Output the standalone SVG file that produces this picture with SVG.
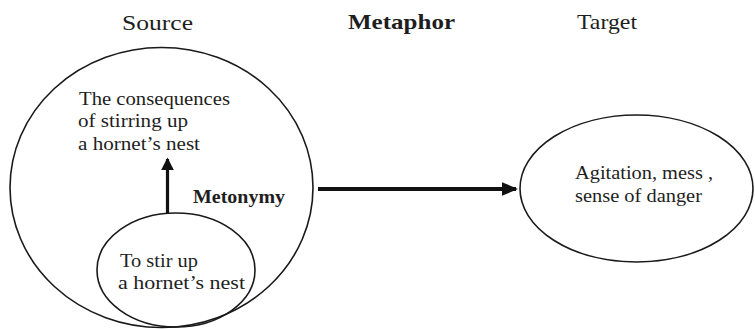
<svg xmlns="http://www.w3.org/2000/svg" width="755" height="329" viewBox="0 0 755 329">
<style>
.t{font-family:"Liberation Serif","Times New Roman","DejaVu Serif",serif;fill:#1e1e1e}
.h{font-size:22px}
.b{font-size:18.5px}
.bold{font-weight:bold}
.shape{fill:none;stroke:#1a1a1a;stroke-width:1.6}
.conn{stroke:#111;fill:none}
</style>
<defs>
<marker id="ah" markerWidth="4" markerHeight="4" refX="3.5" refY="2" orient="auto" markerUnits="strokeWidth">
<path d="M0,0 L4,2 L0,4 Z" fill="#111"/>
</marker>
<marker id="ah2" markerWidth="4" markerHeight="4" refX="3.5" refY="2" orient="auto" markerUnits="strokeWidth">
<path d="M0,0.3 L4,2 L0,3.7 Z" fill="#111"/>
</marker>
</defs>
<rect width="755" height="329" fill="#fff"/>
<g id="headers">
<text class="t h" x="122" y="30" textLength="71" lengthAdjust="spacingAndGlyphs">Source</text>
<text class="t h bold" x="348" y="29" textLength="107" lengthAdjust="spacingAndGlyphs">Metaphor</text>
<text class="t h" x="577" y="29" textLength="60" lengthAdjust="spacingAndGlyphs">Target</text>
</g>
<g id="source">
<ellipse class="shape" cx="161.5" cy="187.5" rx="151.5" ry="140"/>
<text class="t b" x="79" y="105" textLength="151" lengthAdjust="spacingAndGlyphs">The consequences</text>
<text class="t b" x="78" y="127" textLength="110" lengthAdjust="spacingAndGlyphs">of stirring up</text>
<text class="t b" x="78" y="150" textLength="122" lengthAdjust="spacingAndGlyphs">a hornet’s nest</text>
</g>
<g id="source-inner">
<ellipse class="shape" cx="176" cy="270" rx="79" ry="57"/>
<text class="t b" x="120" y="267" textLength="78" lengthAdjust="spacingAndGlyphs">To stir up</text>
<text class="t b" x="118" y="289" textLength="127" lengthAdjust="spacingAndGlyphs">a hornet’s nest</text>
</g>
<g id="target">
<ellipse class="shape" cx="636.5" cy="188.5" rx="116.5" ry="73.5"/>
<text class="t b" x="575" y="179" textLength="138" lengthAdjust="spacingAndGlyphs">Agitation, mess ,</text>
<text class="t b" x="575" y="202" textLength="127" lengthAdjust="spacingAndGlyphs">sense of danger</text>
</g>
<g id="connectors">
<line class="conn" x1="167.5" y1="213" x2="167.5" y2="159" stroke-width="3.2" marker-end="url(#ah)"/>
<text class="t b bold" x="193" y="203" textLength="92" lengthAdjust="spacingAndGlyphs">Metonymy</text>
<line class="conn" x1="318" y1="189" x2="516" y2="189" stroke-width="4" marker-end="url(#ah2)"/>
</g>
</svg>
